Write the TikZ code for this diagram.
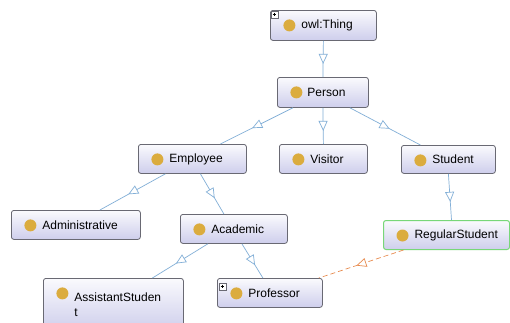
\documentclass[tikz,border=0pt]{standalone}
\usepackage{fontspec}
\setmainfont{Liberation Sans}
\usetikzlibrary{arrows.meta,decorations.markings}

\definecolor{boxtop}{RGB}{250,250,253}
\definecolor{boxbot}{RGB}{206,206,236}
\definecolor{boxline}{RGB}{105,105,115}
\definecolor{dotgold}{RGB}{219,172,62}
\definecolor{isa}{RGB}{130,175,215}
\definecolor{rel}{RGB}{232,140,80}
\definecolor{sel}{RGB}{120,215,120}

\tikzset{
  cls/.style={draw=boxline, line width=0.8pt, rounded corners=2.5pt,
    top color=boxtop, bottom color=boxbot, anchor=north west,
    inner xsep=0pt, inner ysep=0pt, text width=#1, align=left,
    minimum height=30pt, font=\fontsize{12}{15}\selectfont,
    path picture={\fill[dotgold]
      ([xshift=19pt,yshift=-15pt]path picture bounding box.north west) circle (6pt);}},
  picked/.style={draw=sel, line width=1pt},
  plusbox/.style={draw=boxline, fill=white, line width=0.5pt},
  isa/.style={draw=isa, color=isa, line width=0.7pt,
    postaction={decorate, decoration={markings,
      mark=at position 0.5 with {\arrow[xshift=5pt]{Triangle[length=10pt,width=9pt,fill=white]}}}}},
  relation/.style={draw=rel, color=rel, line width=0.7pt, dash pattern=on 5pt off 3pt,
    postaction={decorate, decoration={markings,
      mark=at position 0.5 with {\arrow[xshift=5pt]{Triangle[length=10pt,width=9pt,fill=white]}}}}},
}

\newcommand{\plusmark}[2]{%
  \draw[plusbox] (#1,#2) rectangle ++(7,7);
  \draw[line width=0.6pt] (#1+1.6,#2+3.5) -- (#1+5.4,#2+3.5) (#1+3.5,#2+1.6) -- (#1+3.5,#2+5.4);
}

\begin{document}
\begin{tikzpicture}[x=1pt,y=-1pt]
  \clip (0,0) rectangle (510,322);
  \fill[white] (0,0) rectangle (510,322);

  % classes
  \node[cls=106pt] (thing) at (270,10) {\hspace*{31pt}owl:Thing};
  \node[cls=91pt] (person) at (277,77) {\hspace*{30pt}Person};
  \node[cls=108pt, minimum height=29pt] (employee) at (138,144) {\hspace*{31pt}Employee};
  \node[cls=88pt, minimum height=29pt] (visitor) at (279,144) {\hspace*{31pt}Visitor};
  \node[cls=94pt, minimum height=28pt] (student) at (401,145) {\hspace*{31pt}Student};
  \node[cls=129pt, minimum height=29pt] (admin) at (11,210) {\hspace*{31pt}Administrative};
  \node[cls=107pt, minimum height=29pt] (academic) at (180,214) {\hspace*{31pt}Academic};
  \node[cls=126pt, minimum height=29pt, picked] (regular) at (383,220) {\hspace*{31pt}RegularStudent};
  \node[cls=140pt, minimum height=52pt, inner ysep=10pt] (assistant) at (43,278)
    {\hspace*{31pt}AssistantStuden\\\hspace*{31pt}t};
  \node[cls=105pt, minimum height=29pt] (professor) at (217,278) {\hspace*{31pt}Professor};

  % expand markers
  \plusmark{271}{11}
  \plusmark{219}{283}

  % subclass links
  \draw[isa] (thing.south) -- (person.north);
  \draw[isa] ([xshift=-30pt]person.south) -- ([xshift=28pt]employee.north);
  \draw[isa] (person.south) -- (visitor.north);
  \draw[isa] ([xshift=27pt]person.south) -- ([xshift=-28pt]student.north);
  \draw[isa] ([xshift=-27pt]employee.south) -- ([xshift=24pt]admin.north);
  \draw[isa] ([xshift=8pt]employee.south) -- ([xshift=-10pt]academic.north);
  \draw[isa] (student.south) -- ([xshift=5pt]regular.north);
  \draw[isa] ([xshift=-26pt]academic.south) -- ([xshift=39pt]assistant.north);
  \draw[isa] ([xshift=8pt]academic.south) -- ([xshift=-7pt]professor.north);

  % object property link
  \draw[relation] ([xshift=-43pt]regular.south) -- ([xshift=-4pt]professor.north east);
\end{tikzpicture}
\end{document}
